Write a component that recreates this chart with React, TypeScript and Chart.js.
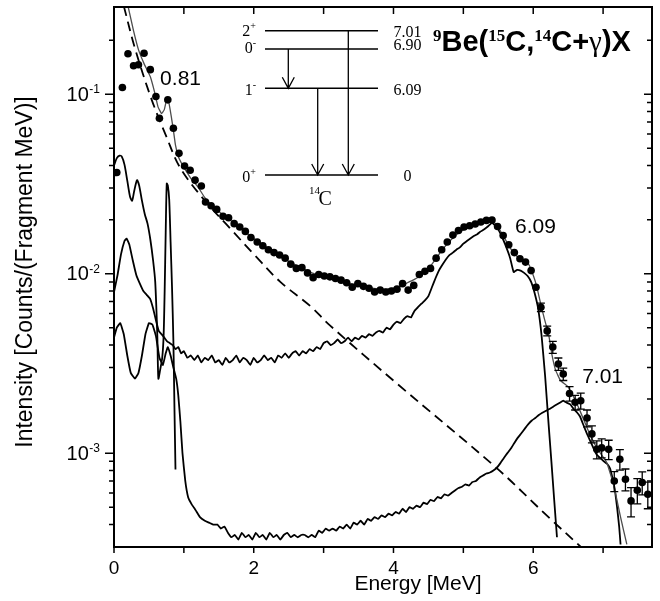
import React, { useEffect, useRef } from "react";
import { Chart, registerables } from "chart.js";

Chart.register(...registerables);

// ---------- axes ----------
const X_MIN = 0;
const X_MAX = 7.7;
const Y_MIN = 3e-4;
const Y_MAX = 0.306;
const xAllTicks = [0, 1, 2, 3, 4, 5, 6, 7];
const xMajorTicks = [0, 2, 4, 6];
const xTickLabels = ["0", "2", "4", "6"];
const yMajorTicks = [1e-3, 1e-2, 1e-1];
const yTickExponents = ["-3", "-2", "-1"];
const yMinorTicks = [
  4e-4, 5e-4, 6e-4, 7e-4, 8e-4, 9e-4,
  2e-3, 3e-3, 4e-3, 5e-3, 6e-3, 7e-3, 8e-3, 9e-3,
  2e-2, 3e-2, 4e-2, 5e-2, 6e-2, 7e-2, 8e-2, 9e-2,
  2e-1,
];
const xTitle = "Energy [MeV]";
const yTitle = "Intensity [Counts/(Fragment MeV)]";

// ---------- measured spectrum (points) ----------
const ptsE = [
  0.04, 0.12, 0.20, 0.28, 0.35, 0.43, 0.52, 0.60, 0.65, 0.77,
  0.85, 0.93, 1.01, 1.09, 1.16, 1.25, 1.31, 1.39, 1.47, 1.56,
  1.64, 1.72, 1.80, 1.88, 1.96, 2.05, 2.13, 2.21, 2.29, 2.37,
  2.45, 2.53, 2.61, 2.69, 2.77, 2.85, 2.93, 3.01, 3.09, 3.17,
  3.25, 3.33, 3.41, 3.49, 3.57, 3.65, 3.73, 3.81, 3.89, 3.97,
  4.05, 4.13, 4.21, 4.29, 4.37, 4.45, 4.53, 4.61, 4.69, 4.77,
  4.85, 4.93, 5.01, 5.09, 5.17, 5.25, 5.33, 5.41, 5.49, 5.57,
  5.65, 5.73, 5.81, 5.89, 5.97, 6.04, 6.11, 6.20, 6.28, 6.36,
  6.43, 6.52, 6.60, 6.68, 6.77, 6.84, 6.91, 6.98, 7.08, 7.16,
  7.24, 7.32, 7.40, 7.49, 7.56, 7.64,
];
const ptsV = [
  0.0366, 0.109, 0.168, 0.144, 0.146, 0.169, 0.137, 0.097, 0.0735, 0.093,
  0.0646, 0.0468, 0.0398, 0.0377, 0.0332, 0.0308, 0.0251, 0.0239, 0.0228, 0.0209,
  0.0205, 0.0190, 0.0182, 0.0172, 0.0159, 0.0150, 0.0143, 0.0136, 0.0131, 0.0127,
  0.0122, 0.0113, 0.0107, 0.0108, 0.0101, 0.0095, 0.0099, 0.0097, 0.0096, 0.0094,
  0.0092, 0.0089, 0.0084, 0.0088, 0.0085, 0.0083, 0.0079, 0.0081, 0.0079, 0.0080,
  0.0082, 0.0088, 0.0081, 0.0086, 0.0099, 0.0103, 0.0107, 0.0122, 0.0136, 0.0150,
  0.0164, 0.0174, 0.0182, 0.0185, 0.0189, 0.0194, 0.0198, 0.0199, 0.0183, 0.0163,
  0.0145, 0.0131, 0.0121, 0.0116, 0.0104, 0.0084, 0.0065, 0.0048, 0.0039, 0.00314,
  0.00276, 0.00215, 0.00192, 0.00196, 0.00157, 0.00128, 0.00105, 0.00107, 0.00105, 0.00070,
  0.000925, 0.000716, 0.000542, 0.000621, 0.000686, 0.00059,
];
// vertical error (counts) and horizontal half bin width (MeV)
const ptsErr = [
  0, 0, 0, 0, 0, 0, 0, 0, 0, 0,
  0, 0, 0, 0, 0, 0, 0, 0, 0, 0,
  0, 0, 0, 0, 0, 0, 0, 0, 0, 0,
  0, 0, 0, 0, 0, 0, 0, 0, 0, 0,
  0, 0, 0, 0, 0, 0, 0, 0, 0, 0,
  0, 0, 0, 0, 0, 0, 0, 0, 0, 0,
  0, 0, 0, 0, 0, 0, 0, 0, 0, 0,
  0, 0, 0, 0, 0, 0, 0.00035, 0.0003, 0.0003, 0.00025,
  0.00022, 0.0002, 0.00018, 0.0002, 0.00017, 0.00014, 0.00012, 0.00013, 0.00013, 0.00009,
  0.00012, 0.0001, 0.0001, 0.0001, 0.0001, 0.0001,
];
const ptsBin = [
  0, 0, 0, 0, 0, 0, 0, 0, 0, 0,
  0, 0, 0, 0, 0, 0.04, 0.04, 0.04, 0.04, 0.04,
  0.04, 0.04, 0.04, 0.04, 0.04, 0.04, 0.04, 0.04, 0.04, 0.04,
  0.04, 0.04, 0.04, 0.04, 0.04, 0.04, 0.04, 0.04, 0.04, 0.04,
  0.04, 0.04, 0.04, 0.04, 0.04, 0.04, 0.04, 0.04, 0.04, 0.04,
  0.04, 0.04, 0.04, 0.04, 0.04, 0.04, 0.04, 0.04, 0.04, 0.04,
  0.04, 0.04, 0.04, 0.04, 0.04, 0.04, 0.04, 0.04, 0.04, 0.04,
  0.04, 0.04, 0.04, 0.04, 0.04, 0, 0, 0, 0, 0,
  0, 0, 0, 0, 0, 0, 0, 0, 0, 0,
  0, 0, 0, 0, 0, 0,
];

// ---------- total fit ----------
const totE = [
  0.20, 0.28, 0.35, 0.43, 0.52, 0.58, 0.63, 0.68, 0.72, 0.755,
  0.78, 0.82, 0.85, 0.88, 0.92, 0.97, 1.02, 1.10, 1.20, 1.30,
  1.40, 1.50, 1.60, 1.70, 1.80, 1.90, 2.00, 2.10, 2.20, 2.30,
  2.40, 2.50, 2.60, 2.70, 2.80, 2.90, 3.00, 3.10, 3.20, 3.30,
  3.40, 3.50, 3.60, 3.70, 3.80, 3.90, 4.00, 4.10, 4.20, 4.30,
  4.40, 4.50, 4.60, 4.70, 4.80, 4.90, 5.00, 5.10, 5.20, 5.30,
  5.40, 5.48, 5.55, 5.63, 5.72, 5.80, 5.88, 5.94, 6.00, 6.05,
  6.11, 6.16, 6.22, 6.27, 6.32, 6.39, 6.49, 6.58, 6.67, 6.79,
  6.91, 7.05, 7.15, 7.25, 7.34,
];
const totV = [
  0.310, 0.225, 0.177, 0.148, 0.125, 0.103, 0.085, 0.078, 0.082, 0.094,
  0.092, 0.075, 0.063, 0.052, 0.045, 0.041, 0.038, 0.034, 0.0305, 0.0265,
  0.0240, 0.0222, 0.0207, 0.0194, 0.0180, 0.0168, 0.0157, 0.0148, 0.0139, 0.0131,
  0.0124, 0.0117, 0.0112, 0.0107, 0.0102, 0.0099, 0.0097, 0.0095, 0.0093, 0.0090,
  0.0088, 0.0086, 0.0084, 0.0083, 0.0082, 0.0082, 0.0083, 0.0085, 0.0089, 0.0093,
  0.0098, 0.0106, 0.0120, 0.0136, 0.0151, 0.0165, 0.0175, 0.0183, 0.0190, 0.0196,
  0.0199, 0.0186, 0.0168, 0.0148, 0.0130, 0.0122, 0.0117, 0.0112, 0.0098, 0.0085,
  0.0067, 0.0056, 0.0046, 0.0035, 0.0029, 0.00254, 0.00236, 0.00205, 0.00172, 0.00133,
  0.00107, 0.00089, 0.00067, 0.00044, 0.00031,
];

// ---------- background (dashed) ----------
const bgE = [0.14, 0.30, 0.54, 0.75, 0.945, 1.30, 1.66, 2.02, 2.38, 2.81, 3.09, 4.05, 5.49, 6.20, 6.70];
const bgV = [0.31, 0.18, 0.093, 0.058, 0.039, 0.0255, 0.0179, 0.0126, 0.0090, 0.0066, 0.00515, 0.00244, 0.000817, 0.000447, 0.000296];

// ---------- 0.81 MeV response ----------
const r081E = [
  0.00, 0.04, 0.08, 0.11, 0.15, 0.19, 0.23, 0.26, 0.29, 0.33,
  0.36, 0.40, 0.44, 0.48, 0.52, 0.56, 0.59, 0.62, 0.635, 0.66,
  0.69, 0.71, 0.725, 0.74, 0.755, 0.77, 0.79, 0.81, 0.83, 0.85,
  0.865, 0.88,
];
const r081V = [
  0.0400, 0.0440, 0.0455, 0.0450, 0.0405, 0.0330, 0.0268, 0.0255, 0.0290, 0.0332,
  0.0310, 0.0255, 0.0215, 0.0190, 0.0155, 0.0118, 0.0090, 0.0045, 0.0026, 0.0029,
  0.0034, 0.0045, 0.0080, 0.0170, 0.0318, 0.0310, 0.0260, 0.0150, 0.0085, 0.0042,
  0.0018, 0.00081,
];

// ---------- 6.09 MeV response ----------
const r609E = [
  0.00, 0.05, 0.10, 0.15, 0.18, 0.22, 0.27, 0.32, 0.37, 0.42,
  0.47, 0.52, 0.56, 0.60, 0.64, 0.68, 0.72, 0.76, 0.80, 0.84,
  0.88, 0.92, 0.96, 1.00, 1.05, 1.10, 1.15, 1.20, 1.25, 1.30,
  1.35, 1.40, 1.45, 1.50, 1.55, 1.60, 1.65, 1.70, 1.75, 1.80,
  1.85, 1.90, 1.95, 2.00, 2.05, 2.10, 2.15, 2.20, 2.25, 2.30,
  2.35, 2.40, 2.45, 2.50, 2.55, 2.60, 2.65, 2.70, 2.75, 2.80,
  2.85, 2.90, 2.95, 3.00, 3.05, 3.10, 3.15, 3.20, 3.25, 3.30,
  3.35, 3.40, 3.45, 3.50, 3.55, 3.60, 3.65, 3.70, 3.75, 3.80,
  3.85, 3.90, 3.95, 4.00, 4.05, 4.10, 4.15, 4.20, 4.25, 4.30,
  4.35, 4.40, 4.45, 4.50, 4.55, 4.60, 4.65, 4.70, 4.75, 4.80,
  4.85, 4.90, 4.95, 5.00, 5.05, 5.10, 5.15, 5.20, 5.25, 5.30,
  5.35, 5.41, 5.47, 5.53, 5.60, 5.67, 5.72, 5.77, 5.82, 5.87,
  5.92, 5.97, 6.02, 6.07, 6.12, 6.17, 6.22, 6.26, 6.30, 6.34,
];
const r609V = [
  0.0079, 0.0098, 0.0128, 0.0152, 0.0157, 0.0145, 0.0118, 0.0098, 0.0088, 0.0080,
  0.0076, 0.0072, 0.0064, 0.0055, 0.0048, 0.0046, 0.0044, 0.0042, 0.0041, 0.0040,
  0.0038, 0.0039, 0.0036, 0.0037, 0.0034, 0.0035, 0.0033, 0.0035, 0.0032, 0.0034,
  0.0033, 0.0035, 0.0032, 0.0033, 0.0031, 0.0034, 0.0032, 0.0033, 0.0035, 0.0032,
  0.0034, 0.0033, 0.0031, 0.0034, 0.0032, 0.0033, 0.0035, 0.0033, 0.0034, 0.0032,
  0.0035, 0.0034, 0.0036, 0.0034, 0.0036, 0.0037, 0.0035, 0.0037, 0.0036, 0.0038,
  0.0037, 0.0039, 0.0038, 0.0041, 0.0042, 0.0040, 0.0041, 0.0043, 0.0041, 0.0042,
  0.0044, 0.0042, 0.0044, 0.0043, 0.0045, 0.0044, 0.0046, 0.0045, 0.0047, 0.0048,
  0.0047, 0.0050, 0.0049, 0.0052, 0.0054, 0.0053, 0.0056, 0.0058, 0.0057, 0.0062,
  0.0065, 0.0068, 0.0071, 0.0075, 0.0084, 0.0094, 0.0104, 0.0112, 0.0120, 0.0127,
  0.0131, 0.0136, 0.0140, 0.0147, 0.0152, 0.0157, 0.0162, 0.0166, 0.0172, 0.0177,
  0.0183, 0.0192, 0.0183, 0.0168, 0.0145, 0.0122, 0.0102, 0.0105, 0.0104, 0.0101,
  0.0097, 0.0090, 0.0078, 0.0064, 0.0045, 0.0027, 0.00145, 0.0009, 0.00055, 0.00034,
];

// ---------- 7.01 MeV response ----------
const r701E = [
  0.00, 0.04, 0.09, 0.14, 0.19, 0.24, 0.30, 0.35, 0.40, 0.45,
  0.50, 0.55, 0.60, 0.65, 0.70, 0.74, 0.77, 0.81, 0.85, 0.89,
  0.92, 0.95, 0.98, 1.02, 1.06, 1.11, 1.17, 1.23, 1.30, 1.36,
  1.42, 1.48, 1.53, 1.58, 1.63, 1.68, 1.73, 1.78, 1.83, 1.88,
  1.93, 1.98, 2.03, 2.08, 2.13, 2.18, 2.23, 2.28, 2.33, 2.38,
  2.43, 2.48, 2.53, 2.58, 2.63, 2.68, 2.73, 2.78, 2.83, 2.88,
  2.93, 2.98, 3.03, 3.08, 3.13, 3.18, 3.23, 3.28, 3.33, 3.38,
  3.43, 3.48, 3.53, 3.58, 3.63, 3.68, 3.73, 3.78, 3.83, 3.88,
  3.93, 3.98, 4.03, 4.08, 4.13, 4.18, 4.23, 4.28, 4.33, 4.38,
  4.43, 4.48, 4.53, 4.58, 4.63, 4.68, 4.73, 4.78, 4.83, 4.88,
  4.93, 4.98, 5.03, 5.08, 5.13, 5.18, 5.23, 5.28, 5.33, 5.38,
  5.43, 5.48, 5.53, 5.58, 5.63, 5.68, 5.73, 5.78, 5.83, 5.88,
  5.93, 5.98, 6.03, 6.08, 6.13, 6.18, 6.23, 6.28, 6.33, 6.38,
  6.43, 6.48, 6.53, 6.58, 6.63, 6.67, 6.72, 6.77, 6.82, 6.87,
  6.91, 6.96, 7.01, 7.06, 7.10, 7.14, 7.17, 7.20, 7.23, 7.25,
];
const r701V = [
  0.0044, 0.0050, 0.0053, 0.0046, 0.0035, 0.0028, 0.0026, 0.0028, 0.0035, 0.0046,
  0.0053, 0.0052, 0.0045, 0.0034, 0.0031, 0.0036, 0.0039, 0.0035, 0.0030, 0.0026,
  0.0021, 0.0015, 0.0010, 0.00070, 0.00057, 0.00052, 0.00048, 0.00044, 0.00042, 0.00041,
  0.00040, 0.00040, 0.00038, 0.00039, 0.00036, 0.00034, 0.00035, 0.00033, 0.00036, 0.00034,
  0.00035, 0.00033, 0.00036, 0.00034, 0.00035, 0.00033, 0.00036, 0.00034, 0.00035, 0.00033,
  0.00035, 0.00036, 0.00034, 0.00035, 0.00034, 0.00035, 0.00035, 0.00034, 0.00035, 0.00034,
  0.00037, 0.00036, 0.00038, 0.00037, 0.00038, 0.00037, 0.00039, 0.00038, 0.00040, 0.00038,
  0.00041, 0.00040, 0.00042, 0.00040, 0.00043, 0.00042, 0.00044, 0.00043, 0.00045, 0.00044,
  0.00046, 0.00045, 0.00047, 0.00046, 0.00049, 0.00047, 0.00050, 0.00049, 0.00051, 0.00050,
  0.00053, 0.00052, 0.00055, 0.00054, 0.00057, 0.00056, 0.00059, 0.00058, 0.00060, 0.00062,
  0.00064, 0.00065, 0.00067, 0.00066, 0.00069, 0.00070, 0.00073, 0.00075, 0.00077, 0.00078,
  0.00080, 0.00083, 0.00088, 0.00094, 0.00100, 0.00106, 0.00114, 0.00122, 0.00129, 0.00137,
  0.00145, 0.00152, 0.00157, 0.00163, 0.00168, 0.00172, 0.00176, 0.00181, 0.00186, 0.00191,
  0.00196, 0.00191, 0.00187, 0.00176, 0.00168, 0.00160, 0.00143, 0.00128, 0.00116, 0.00105,
  0.00098, 0.00094, 0.00090, 0.00087, 0.00082, 0.00071, 0.00062, 0.00050, 0.00039, 0.00031,
];

// ---------- annotations ----------
const peakLabels = ["0.81", "6.09", "7.01"];
const peakLabelE = [0.66, 5.74, 6.70];
const peakLabelV = [0.1125, 0.0168, 0.00245];

const levelSpin = ["2", "0", "1", "0"];
const levelParity = ["+", "-", "-", "+"];
const levelEnergy = ["7.01", "6.90", "6.09", "0"];

const SANS = '"Liberation Sans", Arial, Helvetica, sans-serif';
const SERIF = '"Liberation Serif", "Times New Roman", serif';

const zip = (xs: number[], ys: number[]) => xs.map((x, i) => ({ x, y: ys[i] }));

function drawRich(ctx: CanvasRenderingContext2D, x: number, y: number, segs: { t: string; f: string; dy?: number }[]) {
  let cx = x;
  for (const s of segs) {
    ctx.font = s.f;
    ctx.fillText(s.t, cx, y + (s.dy || 0));
    cx += ctx.measureText(s.t).width;
  }
  return cx - x;
}

const decorPlugin = {
  id: "decor",
  afterDatasetsDraw(chart: any) {
    const ctx: CanvasRenderingContext2D = chart.ctx;
    const xs = chart.scales.x;
    const ys = chart.scales.y;
    const ca = chart.chartArea;
    ctx.save();
    ctx.beginPath();
    ctx.rect(ca.left, ca.top, ca.right - ca.left, ca.bottom - ca.top);
    ctx.clip();
    ctx.strokeStyle = "#000";
    for (let i = 0; i < ptsE.length; i++) {
      const px = xs.getPixelForValue(ptsE[i]);
      const py = ys.getPixelForValue(ptsV[i]);
      const e = ptsErr[i];
      const b = ptsBin[i];
      if (b) {
        ctx.lineWidth = 2.2;
        ctx.beginPath();
        ctx.moveTo(xs.getPixelForValue(ptsE[i] - b), py);
        ctx.lineTo(xs.getPixelForValue(ptsE[i] + b), py);
        ctx.stroke();
      }
      if (!e) continue;
      ctx.lineWidth = 1.3;
      const y1 = ys.getPixelForValue(ptsV[i] - e);
      const y2 = ys.getPixelForValue(ptsV[i] + e);
      ctx.beginPath();
      ctx.moveTo(px, y1);
      ctx.lineTo(px, y2);
      ctx.moveTo(px - 4, y1);
      ctx.lineTo(px + 4, y1);
      ctx.moveTo(px - 4, y2);
      ctx.lineTo(px + 4, y2);
      ctx.stroke();
    }
    ctx.restore();
  },
  afterDraw(chart: any) {
    const ctx: CanvasRenderingContext2D = chart.ctx;
    const xs = chart.scales.x;
    const ys = chart.scales.y;
    const ca = chart.chartArea;
    const L = ca.left - 114;
    const T = ca.top - 7;
    ctx.save();
    ctx.strokeStyle = "#000";
    ctx.fillStyle = "#000";

    // frame
    ctx.lineWidth = 2;
    ctx.strokeRect(ca.left, ca.top, ca.right - ca.left, ca.bottom - ca.top);

    // ticks
    ctx.lineWidth = 1.5;
    ctx.beginPath();
    for (const t of xAllTicks) {
      const px = xs.getPixelForValue(t);
      ctx.moveTo(px, ca.bottom);
      ctx.lineTo(px, ca.bottom + 6);
      ctx.moveTo(px, ca.top);
      ctx.lineTo(px, ca.top + 7);
    }
    for (const t of yMajorTicks) {
      const py = ys.getPixelForValue(t);
      ctx.moveTo(ca.left - 9, py);
      ctx.lineTo(ca.left, py);
      ctx.moveTo(ca.right, py);
      ctx.lineTo(ca.right - 8, py);
    }
    for (const t of yMinorTicks) {
      const py = ys.getPixelForValue(t);
      ctx.moveTo(ca.left - 5, py);
      ctx.lineTo(ca.left, py);
      ctx.moveTo(ca.right, py);
      ctx.lineTo(ca.right - 5, py);
    }
    ctx.stroke();

    // x tick labels
    ctx.font = `19px ${SANS}`;
    ctx.textAlign = "center";
    ctx.textBaseline = "alphabetic";
    xMajorTicks.forEach((t, i) => {
      ctx.fillText(xTickLabels[i], xs.getPixelForValue(t), ca.bottom + 27);
    });

    // y tick labels 10^n
    yMajorTicks.forEach((t, i) => {
      const py = ys.getPixelForValue(t);
      ctx.textAlign = "left";
      ctx.font = `12px ${SANS}`;
      const sw = ctx.measureText(yTickExponents[i]).width;
      const rightEdge = ca.left - 14;
      ctx.fillText(yTickExponents[i], rightEdge - sw, py - 1);
      ctx.font = `20px ${SANS}`;
      ctx.textAlign = "right";
      ctx.fillText("10", rightEdge - sw - 0.5, py + 6.5);
    });

    // axis titles
    ctx.font = `21px ${SANS}`;
    ctx.textAlign = "center";
    ctx.fillText(xTitle, ca.left + 304, ca.bottom + 43);
    ctx.save();
    ctx.translate(26, (ca.top + ca.bottom) / 2 - 5);
    ctx.rotate(-Math.PI / 2);
    ctx.font = `23px ${SANS}`;
    ctx.textBaseline = "middle";
    ctx.fillText(yTitle, 0, 0);
    ctx.restore();

    // peak labels
    ctx.font = `21px ${SANS}`;
    ctx.textAlign = "left";
    ctx.textBaseline = "alphabetic";
    peakLabels.forEach((s, i) => {
      ctx.fillText(s, xs.getPixelForValue(peakLabelE[i]), ys.getPixelForValue(peakLabelV[i]));
    });

    // level scheme inset
    const lx1 = 265 + L, lx2 = 378 + L;
    const levelY = [30.7 + T, 49 + T, 88.3 + T, 175 + T];
    ctx.lineWidth = 1.5;
    ctx.beginPath();
    levelY.forEach((y) => {
      ctx.moveTo(lx1, y);
      ctx.lineTo(lx2, y);
    });
    ctx.stroke();
    const arrows = [
      [288.3 + L, levelY[1], levelY[2]],
      [317.7 + L, levelY[2], levelY[3]],
      [348.3 + L, levelY[0], levelY[3]],
    ];
    ctx.lineWidth = 1.3;
    ctx.beginPath();
    arrows.forEach(([x, y1, y2]) => {
      ctx.moveTo(x, y1);
      ctx.lineTo(x, y2);
      ctx.moveTo(x - 6, y2 - 11);
      ctx.lineTo(x, y2);
      ctx.lineTo(x + 6, y2 - 11);
    });
    ctx.stroke();
    const leftBase = [36 + T, 53 + T, 94.5 + T, 182 + T];
    levelSpin.forEach((s, i) => {
      ctx.font = `16px ${SERIF}`;
      const bw = ctx.measureText(s).width;
      ctx.font = `10px ${SERIF}`;
      const pw = ctx.measureText(levelParity[i]).width;
      const x0 = 256 + L - bw - pw;
      ctx.textAlign = "left";
      ctx.font = `16px ${SERIF}`;
      ctx.fillText(s, x0, leftBase[i]);
      ctx.font = `10px ${SERIF}`;
      ctx.fillText(levelParity[i], x0 + bw, leftBase[i] - 7);
    });
    const rightBase = [36.5 + T, 49.5 + T, 94.5 + T, 181 + T];
    ctx.font = `16px ${SERIF}`;
    ctx.textAlign = "center";
    levelEnergy.forEach((s, i) => {
      ctx.fillText(s, 407.5 + L, rightBase[i]);
    });
    ctx.textAlign = "left";
    ctx.font = `11px ${SERIF}`;
    ctx.fillText("14", 309 + L, 194 + T);
    ctx.font = `20px ${SERIF}`;
    ctx.fillText("C", 318.5 + L, 205 + T);

    // reaction title
    const sup = `bold 17px ${SERIF}`;
    const main = `bold 29px ${SANS}`;
    drawRich(ctx, 433 + L, 51 + T, [
      { t: "9", f: sup, dy: -10 },
      { t: "Be(", f: main },
      { t: "15", f: sup, dy: -10 },
      { t: "C,", f: main },
      { t: "14", f: sup, dy: -10 },
      { t: "C+", f: main },
      { t: "\u03b3", f: `29px ${SERIF}` },
      { t: ")X", f: main },
    ]);
    ctx.restore();
  },
};

export default function App() {
  const ref = useRef<HTMLCanvasElement>(null);
  useEffect(() => {
    document.body.style.margin = "0";
    const canvas = ref.current!;
    const line = (data: any, extra: any) => ({
      data,
      pointRadius: 0,
      borderColor: "#000",
      borderWidth: 1.8,
      fill: false,
      ...extra,
    });
    const chart = new Chart(canvas, {
      type: "line",
      data: {
        datasets: [
          {
            label: "data",
            data: zip(ptsE, ptsV),
            showLine: false,
            pointRadius: 3.8,
            pointBackgroundColor: "#000",
            pointBorderColor: "#000",
            pointBorderWidth: 0,
          },
          line(zip(totE, totV), { label: "total", borderColor: "#4d4d4d", borderWidth: 1.3, tension: 0.1 }),
          line(zip(bgE, bgV), { label: "background", borderDash: [10, 6], borderWidth: 1.8, tension: 0.35 }),
          line(zip(r081E, r081V), { label: "0.81", tension: 0.25 }),
          line(zip(r609E, r609V), { label: "6.09", tension: 0.1 }),
          line(zip(r701E, r701V), { label: "7.01", tension: 0.1 }),
        ],
      },
      options: {
        responsive: false,
        animation: false,
        events: [],
        layout: { padding: { left: 114, right: 8, top: 7, bottom: 54 } },
        plugins: { legend: { display: false }, tooltip: { enabled: false }, title: { display: false } },
        scales: {
          x: { type: "linear", min: X_MIN, max: X_MAX, display: false },
          y: { type: "logarithmic", min: Y_MIN, max: Y_MAX, display: false },
        },
      },
      plugins: [decorPlugin],
    });
    return () => chart.destroy();
  }, []);
  return (
    <div style={{ width: 660, height: 601 }}>
      <canvas ref={ref} width={660} height={601} style={{ display: "block", width: 660, height: 601 }} />
    </div>
  );
}
